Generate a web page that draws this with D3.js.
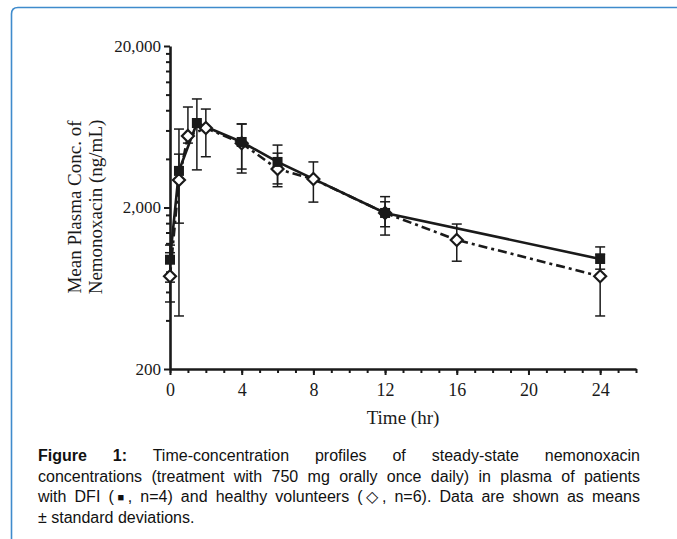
<!DOCTYPE html>
<html>
<head>
<meta charset="utf-8">
<script src="https://cdn.jsdelivr.net/npm/d3@7"></script>
<style>
body { margin: 0; background: #fff; }
#fig { position: relative; width: 677px; height: 539px; overflow: hidden; }
#fig svg { position: absolute; left: 0; top: 0; }
.cap { position: absolute; left: 38px; width: 602px; font: 16px "Liberation Sans", Arial, sans-serif; color: #111; text-align: justify; text-align-last: justify; line-height: 20px; }
.cap.last { text-align-last: left; }
.sq { font-size: 11px; vertical-align: 1px; }
</style>
</head>
<body>
<div id="fig"></div>
<script>
// DFI patients (filled squares, solid line)
const timesDFI = [0, 0.5, 1.5, 4, 6, 12, 24]
const meanDFI = [950, 3370, 6670, 5090, 3830, 1850, 960]
const upperDFI = [1170, 4280, 9400, 6580, 4870, 2170, 1140]
const lowerDFI = [690, 1600, 3420, 3460, 2800, 1520, 830]

// healthy volunteers (open diamonds, dash-dot line)
const timesHV = [0, 0.5, 1, 2, 4, 6, 8, 12, 16, 24]
const meanHV = [750, 2960, 5550, 6210, 5000, 3460, 3000, 1850, 1260, 750]
const upperHV = [1050, 6120, 8380, 8140, 6580, 4340, 3830, 2335, 1580, 1030]
const lowerHV = [520, 426, 5010, 4125, 3270, 2690, 2160, 1350, 930, 426]

const yMajor = [200, 2000, 20000]
const yMinor = [400, 600, 800, 1000, 1200, 1400, 1600, 1800,
    4000, 6000, 8000, 10000, 12000, 14000, 16000, 18000]
const xMajor = [0, 4, 8, 12, 16, 20, 24]
const xMinor = d3.range(0, 27, 1)

const captionLines = [
    ["<b>Figure 1:</b> Time-concentration profiles of steady-state nemonoxacin", false],
    ["concentrations (treatment with 750 mg orally once daily) in plasma of patients", false],
    ["with DFI (<span class='sq'>\u25A0</span>, n=4) and healthy volunteers (\u25C7, n=6). Data are shown as means", false],
    ["\u00B1 standard deviations.", true]
]

const serif = '"Liberation Serif", "Times New Roman", serif'
const ink = "#1a1a1a"

const fig = d3.select("#fig")
const svg = fig.append("svg")
    .attr("width", 677)
    .attr("height", 539)

// blue frame (top and left edge, rounded corner)
svg.append("path")
    .attr("d", "M11.5,539 L11.5,14 Q11.5,7.5 18,7.5 L677,7.5")
    .style("fill", "none")
    .style("stroke", "#3f8bcc")
    .style("stroke-width", 1.6)

const x = d3.scaleLinear().domain([0, 26]).range([170, 636])
const y = d3.scaleLog().domain([200, 20000]).range([369, 46])

// minor ticks
svg.append("g")
    .attr("transform", "translate(170,0)")
    .call(d3.axisLeft(y).tickValues(yMinor).tickSize(4).tickFormat(""))
    .call(g => g.select(".domain").remove())
    .call(g => g.selectAll("line").style("stroke", ink).style("stroke-width", 2))

svg.append("g")
    .attr("transform", "translate(0,369)")
    .call(d3.axisBottom(x).tickValues(xMinor).tickSize(4).tickFormat(""))
    .call(g => g.select(".domain").remove())
    .call(g => g.selectAll("line").style("stroke", ink).style("stroke-width", 2))

// major ticks + labels
const yAxis = svg.append("g")
    .attr("transform", "translate(170,0)")
    .call(d3.axisLeft(y).tickValues(yMajor).tickSize(6).tickSizeOuter(0)
        .tickPadding(3).tickFormat(d3.format(",")))

const xAxis = svg.append("g")
    .attr("transform", "translate(0,369)")
    .call(d3.axisBottom(x).tickValues(xMajor).tickSize(6).tickSizeOuter(0).tickPadding(8))

yAxis.selectAll("text").style("font-family", serif).style("font-size", "17px").style("fill", ink)
xAxis.selectAll("text").style("font-family", serif).style("font-size", "18px").style("fill", ink)
svg.selectAll(".domain").style("stroke", ink).style("stroke-width", 2.6)
yAxis.selectAll("line").style("stroke", ink).style("stroke-width", 2)
xAxis.selectAll("line").style("stroke", ink).style("stroke-width", 2)

// axis titles
svg.append("text")
    .attr("x", x(13))
    .attr("y", 424)
    .attr("text-anchor", "middle")
    .style("font-family", serif)
    .style("font-size", "19px")
    .style("fill", ink)
    .text("Time (hr)")

const yTitle = svg.append("text")
    .attr("transform", "translate(81,207) rotate(-90)")
    .attr("text-anchor", "middle")
    .style("font-family", serif)
    .style("font-size", "19px")
    .style("fill", ink)
yTitle.append("tspan").attr("x", 0).attr("y", 0).text("Mean Plasma Conc. of")
yTitle.append("tspan").attr("x", 0).attr("y", 21).text("Nemonoxacin (ng/mL)")

function series(times, mean, upper, lower) {
    return times.map((t, i) => ({ t: t, m: mean[i], hi: upper[i], lo: lower[i] }))
}
const dfi = series(timesDFI, meanDFI, upperDFI, lowerDFI)
const hv = series(timesHV, meanHV, upperHV, lowerHV)

// error bars
function errorBars(data) {
    const g = svg.append("g")
        .style("stroke", ink)
        .style("stroke-width", 1.5)
    g.selectAll("line.v").data(data).join("line")
        .attr("x1", d => x(d.t)).attr("x2", d => x(d.t))
        .attr("y1", d => y(d.hi)).attr("y2", d => y(d.lo))
    g.selectAll("line.hi").data(data).join("line")
        .attr("x1", d => x(d.t) - 5).attr("x2", d => x(d.t) + 5)
        .attr("y1", d => y(d.hi)).attr("y2", d => y(d.hi))
    g.selectAll("line.lo").data(data).join("line")
        .attr("x1", d => x(d.t) - 5).attr("x2", d => x(d.t) + 5)
        .attr("y1", d => y(d.lo)).attr("y2", d => y(d.lo))
}
errorBars(hv)
errorBars(dfi)

const line = d3.line().x(d => x(d.t)).y(d => y(d.m))

svg.append("path")
    .datum(hv)
    .attr("d", line)
    .style("fill", "none")
    .style("stroke", ink)
    .style("stroke-width", 2.6)
    .style("stroke-dasharray", "9,4,3,4")

svg.append("path")
    .datum(dfi)
    .attr("d", line)
    .style("fill", "none")
    .style("stroke", ink)
    .style("stroke-width", 2.6)

// markers
svg.append("g").selectAll("path").data(hv).join("path")
    .attr("transform", d => "translate(" + x(d.t) + "," + y(d.m) + ")")
    .attr("d", "M0,-6 L6,0 L0,6 L-6,0 Z")
    .style("fill", "white")
    .style("stroke", ink)
    .style("stroke-width", 2.2)

svg.append("g").selectAll("rect").data(dfi).join("rect")
    .attr("x", d => x(d.t) - 5)
    .attr("y", d => y(d.m) - 5)
    .attr("width", 10)
    .attr("height", 10)
    .style("fill", ink)

// caption
captionLines.forEach((c, i) => {
    fig.append("div")
        .attr("class", c[1] ? "cap last" : "cap")
        .style("top", (446 + i * 20.7) + "px")
        .html(c[0])
})
</script>
</body>
</html>
